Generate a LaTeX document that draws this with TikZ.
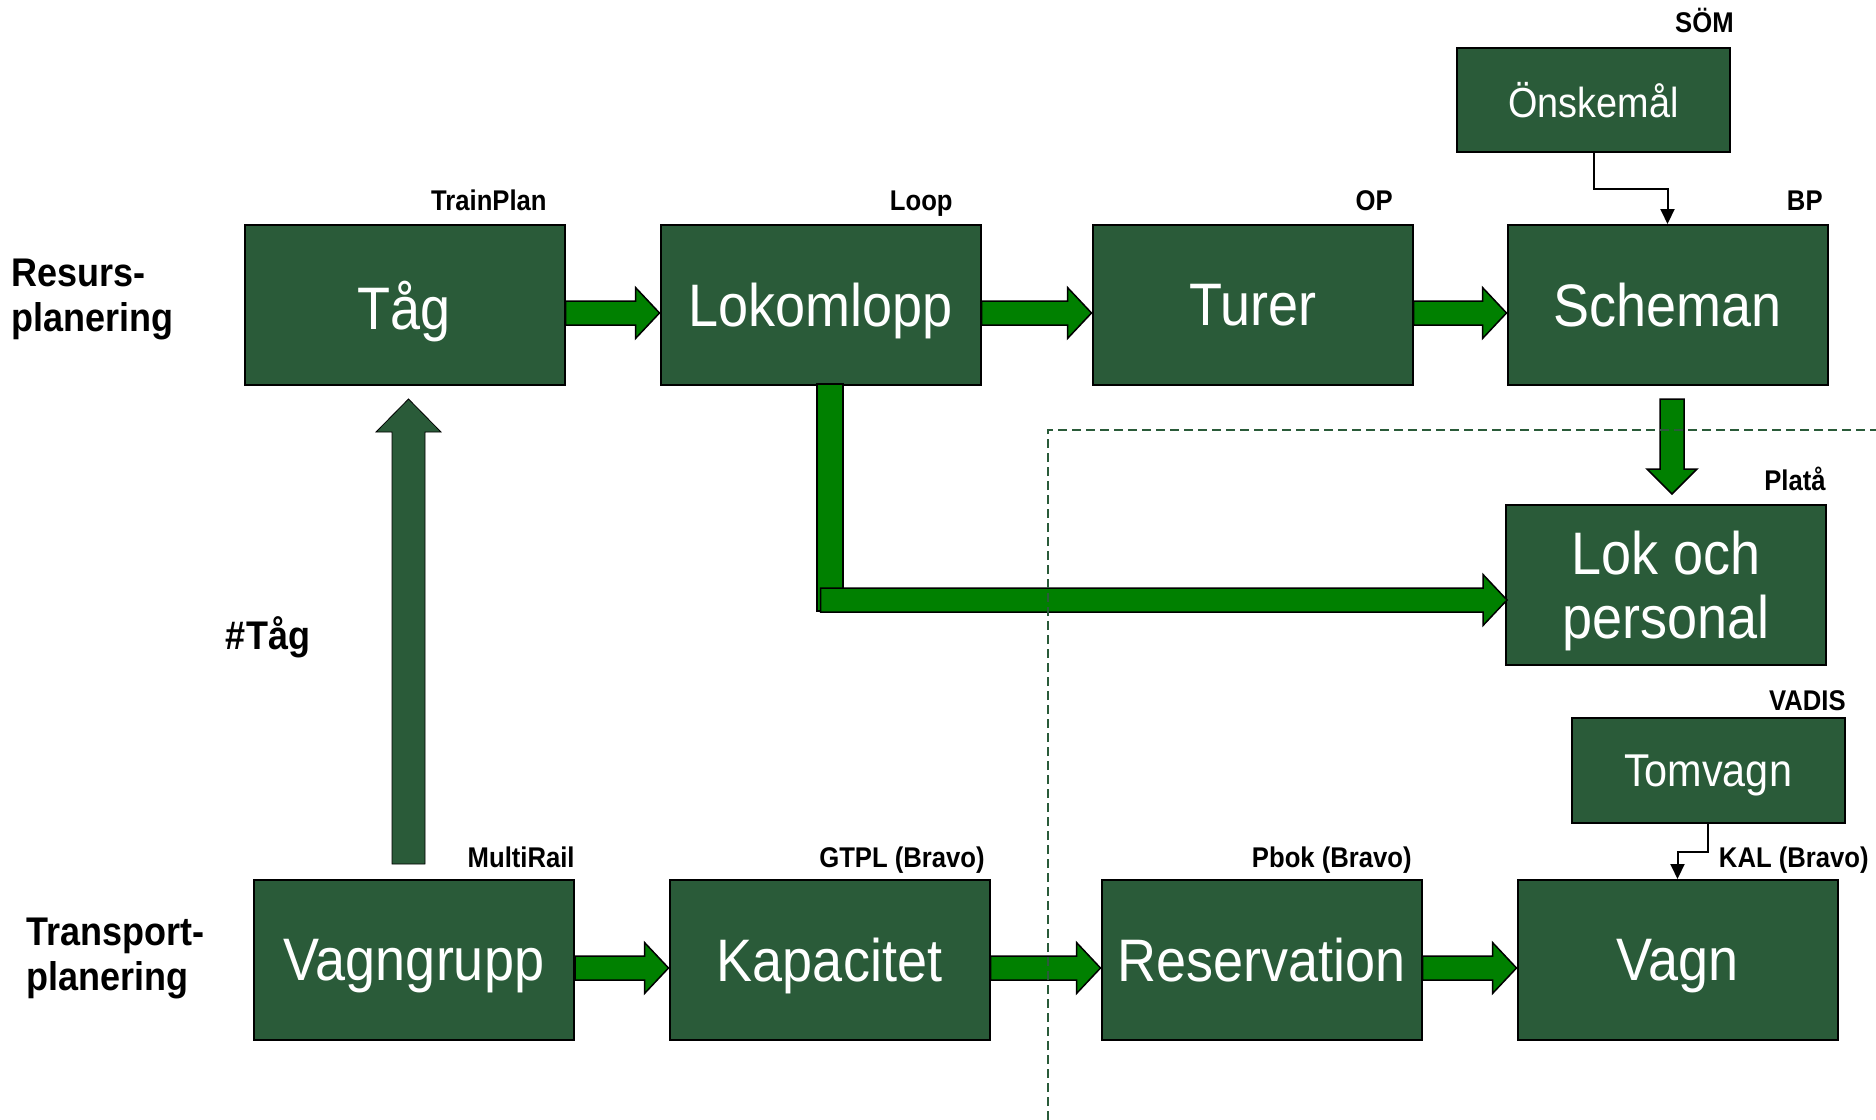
\documentclass[tikz,border=0pt]{standalone}
\usepackage{fontspec}
\setmainfont{Liberation Sans}[FakeStretch=0.9]
\usepackage{tikz}
\usetikzlibrary{calc,positioning,arrows.meta}
\definecolor{boxgreen}{RGB}{42,91,57}
\definecolor{flowgreen}{RGB}{0,128,0}
\tikzstyle{unit} = [draw=black,line width=1pt,fill=boxgreen,text=white,minimum width=160pt,minimum height=80pt,inner sep=0pt,text depth=0pt,align=center,font=\fontsize{30}{30}\selectfont]
\tikzstyle{smallunit} = [unit,minimum width=136.5pt,minimum height=52pt]
\tikzstyle{tool} = [anchor=base east,inner sep=0pt,font=\bfseries\fontsize{14.25}{16}\selectfont]
\tikzstyle{lane} = [anchor=west,inner sep=0pt,align=left,font=\bfseries\fontsize{20}{22.5}\selectfont]
\tikzstyle{blockarrow} = [draw=black,line width=0.75pt,fill=flowgreen]
\tikzstyle{harrow} = [blockarrow,to path={($(\tikztostart)+(0,-12)$) -- ($(\tikztotarget)+(-24,-12)$) -- ($(\tikztotarget)+(-24,-25.5)$) -- (\tikztotarget) -- ($(\tikztotarget)+(-24,25.5)$) -- ($(\tikztotarget)+(-24,12)$) -- ($(\tikztostart)+(0,12)$) -- cycle}]
\tikzstyle{varrow} = [blockarrow,to path={($(\tikztostart)+(-12,0)$) -- ($(\tikztotarget)+(-12,-25)$) -- ($(\tikztotarget)+(-25,-25)$) -- (\tikztotarget) -- ($(\tikztotarget)+(25,-25)$) -- ($(\tikztotarget)+(12,-25)$) -- ($(\tikztostart)+(12,0)$) -- cycle}]
\tikzstyle{uarrow} = [fill=boxgreen,to path={($(\tikztostart)+(-16.5,0)$) -- ($(\tikztotarget)+(-16.5,33)$) -- ($(\tikztotarget)+(-32.5,33)$) -- (\tikztotarget) -- ($(\tikztotarget)+(32.5,33)$) -- ($(\tikztotarget)+(16.5,33)$) -- ($(\tikztostart)+(16.5,0)$) -- cycle}]
\tikzstyle{link} = [-{Triangle[length=7.5pt,width=7pt]},line width=1pt]
\tikzstyle{border} = [draw=boxgreen,line width=1pt,dash pattern=on 4.5pt off 2.5pt]

\begin{document}
\begin{tikzpicture}[x=0.5pt,y=-0.5pt]
	\useasboundingbox (0,0) rectangle (1876,1120);

	% resursplanering
	\node (tag)[unit] at (404.5,305) {Tåg};
	\node (lokomlopp)[unit] at (820.5,305) {Lokomlopp};
	\node (turer)[unit] at (1252.5,305) {Turer};
	\node (scheman)[unit] at (1667.5,305) {Scheman};
	\node (onsk)[smallunit,font=\fontsize{21}{24}\selectfont] at (1593.5,100) {Önskemål};
	\node (lok)[unit,font=\fontsize{30}{32}\selectfont] at (1666,585) {Lok och\\personal};

	% transportplanering
	\node (tomvagn)[smallunit,minimum height=52.5pt,font=\fontsize{23}{26}\selectfont] at (1708,770.5) {Tomvagn};
	\node (vagngrupp)[unit] at (414,960) {Vagngrupp};
	\node (kapacitet)[unit] at (829.5,960) {Kapacitet};
	\node (reservation)[unit] at (1261.5,960) {Reservation};
	\node (vagn)[unit] at (1677.5,960) {Vagn};

	\node (trainplan)[tool] at (547,210) {TrainPlan};
	\node (loop)[tool] at (953,210) {Loop};
	\node (op)[tool] at (1393,210) {OP};
	\node (bp)[tool] at (1823,210) {BP};
	\node (som)[tool] at (1734,32) {SÖM};
	\node (plata)[tool] at (1826,490) {Platå};
	\node (vadis)[tool] at (1846,710) {VADIS};
	\node (multirail)[tool] at (575,867) {MultiRail};
	\node (gtpl)[tool] at (985,867) {GTPL (Bravo)};
	\node (pbok)[tool] at (1412,867) {Pbok (Bravo)};
	\node (kal)[tool] at (1869,867) {KAL (Bravo)};

	\node (resurs)[lane] at (11,299) {Resurs-\\planering};
	\node (transport)[lane] at (26,958) {Transport-\\planering};
	\node (antal)[font=\bfseries\fontsize{20}{22}\selectfont] at (268,637) {\#Tåg};

	\draw[harrow] ($(tag.east)+(0,8)$) to ($(lokomlopp.west)+(0,8)$);
	\draw[harrow] ($(lokomlopp.east)+(0,8)$) to ($(turer.west)+(0,8)$);
	\draw[harrow] ($(turer.east)+(0,8)$) to ($(scheman.west)+(0,8)$);
	\draw[harrow] ($(vagngrupp.east)+(0,8)$) to ($(kapacitet.west)+(0,8)$);
	\draw[harrow] ($(kapacitet.east)+(0,8)$) to ($(reservation.west)+(0,8)$);
	\draw[harrow] ($(reservation.east)+(0,8)$) to ($(vagn.west)+(0,8)$);

	\draw[varrow] ($(scheman.south)+(4.5,13)$) to ($(lok.north)+(6,-10)$);
	\draw[blockarrow] ($(lokomlopp.south)+(-3.5,-2)$) rectangle ($(lokomlopp.south)+(22.5,225)$);
	\draw[harrow] ($(lok.west -| lokomlopp.south)+(0,15)$) to ($(lok.west)+(2,15)$);
	\draw[uarrow] ($(vagngrupp.north)+(-5.5,-15)$) to ($(tag.south)+(4,13)$);

	\draw[link] (onsk.south) -- ++(0,36) -| (scheman.north);
	\draw[link] (tomvagn.south) -- ++(0,28) -| (vagn.north);

	\draw[border] (1048,1120) |- (1876,430);
\end{tikzpicture}
\end{document}
